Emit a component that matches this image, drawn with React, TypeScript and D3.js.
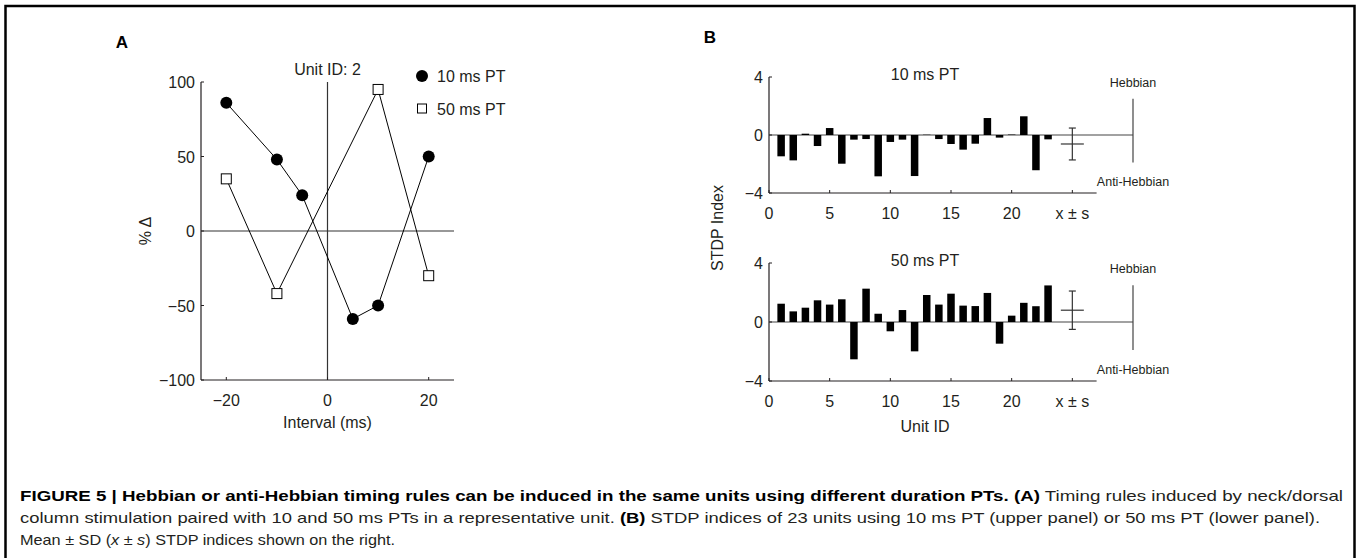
import React, { useLayoutEffect, useRef } from 'react';
import * as d3 from 'd3';

// Panel A: % change vs pairing interval (unit 2)
const intervals10 = [-20, -10, -5, 5, 10, 20];
const change10 = [86, 48, 24, -59, -50, 50];
const intervals50 = [-20, -10, 10, 20];
const change50 = [35, -42, 95, -30];
const ticksAx = [-20, 0, 20];
const ticksAy = [-100, -50, 0, 50, 100];

// Panel B: STDP index per unit
const unitIds = [1, 2, 3, 4, 5, 6, 7, 8, 9, 10, 11, 12, 13, 14, 15, 16, 17, 18, 19, 20, 21, 22, 23];
const stdp10 = [-1.47, -1.75, 0.09, -0.76, 0.48, -1.98, -0.32, -0.28, -2.85, -0.48, -0.32, -2.83,
  0.02, -0.28, -0.62, -1.01, -0.6, 1.17, -0.18, 0.03, 1.29, -2.43, -0.3];
const stdp50 = [1.24, 0.72, 0.97, 1.47, 1.18, 1.54, -2.53, 2.26, 0.56, -0.63, 0.81, -1.99,
  1.83, 1.18, 1.92, 1.11, 1.08, 1.97, -1.47, 0.43, 1.3, 1.07, 2.48];
const summary10 = { mean: -0.62, sd: 1.1 };
const summary50 = { mean: 0.8, sd: 1.3 };
const ticksBx = [0, 5, 10, 15, 20];
const ticksBy = [-4, 0, 4];

// caption line widths in the figure (px)
const captionWidths = [1323, 1300, 375];

const FONT = '"Liberation Sans", Arial, Helvetica, sans-serif';
const INK = '#231f20';

const fmt = (v: number) => (v < 0 ? '\u2212' + Math.abs(v) : String(v));

const xA = d3.scaleLinear().domain([-25, 25]).range([201, 454]);
const yA = d3.scaleLinear().domain([-100, 100]).range([380, 82]);
const xB = d3.scaleLinear().domain([0, 30]).range([769, 1133]);

const line10 = d3.line<number>().x((d, i) => xA(intervals10[i])).y(d => yA(d));
const line50 = d3.line<number>().x((d, i) => xA(intervals50[i])).y(d => yA(d));

interface BarPanelProps {
  values: number[];
  summary: { mean: number; sd: number };
  title: string;
  top: number;
  bottom: number;
}

const BarPanel: React.FC<BarPanelProps> = ({ values, summary, title, top, bottom }) => {
  const y = d3.scaleLinear().domain([-4, 4]).range([bottom, top]);
  const barW = 7.5;
  const xs = xB(25);
  return (
    <g>
      <text x={925} y={top + 3} fontSize={16} textAnchor="middle" fill={INK}>{title}</text>
      {/* axes */}
      <line x1={xB(0)} x2={xB(0)} y1={top} y2={bottom} stroke={INK} strokeWidth={1.2} />
      <line x1={xB(0)} x2={xB(27)} y1={bottom} y2={bottom} stroke={INK} strokeWidth={1.2} />
      <line x1={xB(0)} x2={xB(30)} y1={y(0)} y2={y(0)} stroke="#444" strokeWidth={1.2} />
      <line x1={xB(30)} x2={xB(30)} y1={y(2.5)} y2={y(-1.9)} stroke="#444" strokeWidth={1.2} />
      {ticksBy.map(t => (
        <g key={t}>
          <line x1={xB(0)} x2={xB(0) + 3} y1={y(t)} y2={y(t)} stroke={INK} />
          <text x={xB(0) - 6} y={y(t) + 6} fontSize={16} textAnchor="end" fill={INK}>{fmt(t)}</text>
        </g>
      ))}
      {ticksBx.map(t => (
        <g key={t}>
          <line x1={xB(t)} x2={xB(t)} y1={bottom} y2={bottom - 3} stroke={INK} />
          <text x={xB(t)} y={bottom + 26} fontSize={16} textAnchor="middle" fill={INK}>{t}</text>
        </g>
      ))}
      <line x1={xs} x2={xs} y1={bottom} y2={bottom - 3} stroke={INK} />
      <text x={xs} y={bottom + 26} fontSize={16} textAnchor="middle" fill={INK}>x ± s</text>
      {/* bars */}
      {values.map((v, i) => (
        <rect key={i} x={xB(unitIds[i]) - barW / 2} width={barW}
          y={Math.min(y(v), y(0))} height={Math.abs(y(v) - y(0))} fill="#000" />
      ))}
      {/* mean ± sd */}
      <g stroke="#333" strokeWidth={1.2}>
        <line x1={xs} x2={xs} y1={y(summary.mean + summary.sd)} y2={y(summary.mean - summary.sd)} />
        <line x1={xs - 3.5} x2={xs + 3.5} y1={y(summary.mean + summary.sd)} y2={y(summary.mean + summary.sd)} />
        <line x1={xs - 3.5} x2={xs + 3.5} y1={y(summary.mean - summary.sd)} y2={y(summary.mean - summary.sd)} />
        <line x1={xs - 11.5} x2={xs + 11.5} y1={y(summary.mean)} y2={y(summary.mean)} />
      </g>
      <text x={xB(30)} y={top + 10} fontSize={12.5} textAnchor="middle" fill={INK}>Hebbian</text>
      <text x={xB(30)} y={bottom - 7} fontSize={12.5} textAnchor="middle" fill={INK}>Anti-Hebbian</text>
    </g>
  );
};

const App: React.FC = () => {
  const capRef = useRef<SVGGElement>(null);

  // squeeze caption lines to the widths they have in the figure
  useLayoutEffect(() => {
    if (!capRef.current) return;
    const lines = capRef.current.querySelectorAll('text');
    lines.forEach((l, i) => {
      l.setAttribute('textLength', String(captionWidths[i]));
      l.setAttribute('lengthAdjust', 'spacingAndGlyphs');
    });
  }, []);

  return (
    <svg width={1360} height={558} style={{ position: 'absolute', left: 0, top: 0, background: '#fff' }}
      fontFamily={FONT}>
      <rect x={5.5} y={6} width={1349} height={560} fill="none" stroke="#000" strokeWidth={2.5} />

      {/* Panel A */}
      <text x={122} y={48} fontSize={17} fontWeight="bold" fill="#000" textAnchor="middle">A</text>
      <line x1={xA(-25)} x2={xA(-25)} y1={yA(100)} y2={yA(-100)} stroke={INK} strokeWidth={1.2} />
      <line x1={xA(-25)} x2={xA(25)} y1={yA(-100)} y2={yA(-100)} stroke={INK} strokeWidth={1.2} />
      <line x1={xA(-25)} x2={xA(25)} y1={yA(0)} y2={yA(0)} stroke="#333" strokeWidth={1.2} />
      <line x1={xA(0)} x2={xA(0)} y1={yA(100)} y2={yA(-100)} stroke="#333" strokeWidth={1.2} />
      {ticksAy.map(t => (
        <g key={t}>
          <line x1={xA(-25)} x2={xA(-25) + 3} y1={yA(t)} y2={yA(t)} stroke={INK} />
          <text x={xA(-25) - 6} y={yA(t) + 6} fontSize={16} textAnchor="end" fill={INK}>{fmt(t)}</text>
        </g>
      ))}
      {ticksAx.map(t => (
        <g key={t}>
          <line x1={xA(t)} x2={xA(t)} y1={yA(-100)} y2={yA(-100) - 3} stroke={INK} />
          <text x={xA(t)} y={yA(-100) + 26} fontSize={16} textAnchor="middle" fill={INK}>{fmt(t)}</text>
        </g>
      ))}
      <text x={xA(0)} y={428} fontSize={16} textAnchor="middle" fill={INK}>Interval (ms)</text>
      <text transform={`translate(151,${yA(0)}) rotate(-90)`} fontSize={16} textAnchor="middle" fill={INK}>% Δ</text>
      <text x={xA(0)} y={75} fontSize={16} textAnchor="middle" fill={INK}>Unit ID: 2</text>

      <path d={line10(change10) || ''} fill="none" stroke="#000" strokeWidth={1} />
      <path d={line50(change50) || ''} fill="none" stroke="#000" strokeWidth={1} />
      {change10.map((v, i) => (
        <circle key={i} cx={xA(intervals10[i])} cy={yA(v)} r={6} fill="#000" />
      ))}
      {change50.map((v, i) => (
        <rect key={i} x={xA(intervals50[i]) - 5} y={yA(v) - 5} width={10} height={10}
          fill="#fff" stroke="#000" strokeWidth={1} />
      ))}

      {/* legend */}
      <circle cx={422} cy={76} r={6} fill="#000" />
      <text x={437} y={82} fontSize={16} fill={INK}>10 ms PT</text>
      <rect x={417.5} y={104} width={9} height={9} fill="#fff" stroke="#000" strokeWidth={1} />
      <text x={437} y={115} fontSize={16} fill={INK}>50 ms PT</text>

      {/* Panel B */}
      <text x={710} y={43} fontSize={17} fontWeight="bold" fill="#000" textAnchor="middle">B</text>
      <BarPanel values={stdp10} summary={summary10} title="10 ms PT" top={77} bottom={193} />
      <BarPanel values={stdp50} summary={summary50} title="50 ms PT" top={263} bottom={381} />
      <text transform="translate(723,228) rotate(-90)" fontSize={16} textAnchor="middle" fill={INK}>STDP Index</text>
      <text x={925} y={432} fontSize={16} textAnchor="middle" fill={INK}>Unit ID</text>

      {/* caption */}
      <g ref={capRef} fontSize={15} fill={INK}>
        <text x={20} y={501}>
          <tspan fontWeight="bold" fill="#000">FIGURE 5 | Hebbian or anti-Hebbian timing rules can be induced in the same units using different duration PTs. (A)</tspan>
          <tspan> Timing rules induced by neck/dorsal</tspan>
        </text>
        <text x={20} y={523}>
          <tspan>column stimulation paired with 10 and 50 ms PTs in a representative unit. </tspan>
          <tspan fontWeight="bold" fill="#000">(B)</tspan>
          <tspan> STDP indices of 23 units using 10 ms PT (upper panel) or 50 ms PT (lower panel).</tspan>
        </text>
        <text x={20} y={545}>
          <tspan>Mean ± SD (</tspan>
          <tspan fontStyle="italic">x</tspan>
          <tspan> ± </tspan>
          <tspan fontStyle="italic">s</tspan>
          <tspan>) STDP indices shown on the right.</tspan>
        </text>
      </g>
    </svg>
  );
};

export default App;
